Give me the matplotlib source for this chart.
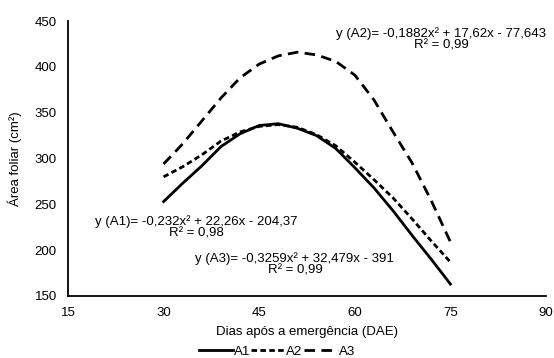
import matplotlib.pyplot as plt

plt.rcParams['font.family'] = ['Liberation Sans', 'DejaVu Sans']
plt.rcParams['font.size'] = 9.5

# dias após a emergência
dae = [30, 33, 36, 39, 42, 45, 48, 51, 54, 57, 60, 63, 66, 69, 72, 75]

# área foliar (cm²)
a1 = [253, 273, 292, 313, 327, 336, 338, 333, 325, 311, 290, 268, 243, 216, 190, 163]
a2 = [280, 291, 304, 319, 329, 335, 337, 334, 326, 314, 296, 277, 257, 234, 210, 187]
a3 = [294, 316, 341, 366, 388, 403, 412, 416, 413, 406, 391, 364, 329, 295, 254, 209]

x_ticks = [15, 30, 45, 60, 75, 90]
y_ticks = [150, 200, 250, 300, 350, 400, 450]

eq_a1 = "y (A1)= -0,232x² + 22,26x - 204,37\nR² = 0,98"
eq_a2 = "y (A2)= -0,1882x² + 17,62x - 77,643\nR² = 0,99"
eq_a3 = "y (A3)= -0,3259x² + 32,479x - 391\nR² = 0,99"

fig = plt.figure(figsize=(5.54, 3.58), dpi=100)
ax = fig.add_axes([0.1227, 0.1732, 0.8629, 0.7681])

ax.plot(dae, a1, color='black', lw=2.0, label='A1')
ax.plot(dae, a2, color='black', lw=2.0, dashes=(2.0, 1.2), label='A2')
ax.plot(dae, a3, color='black', lw=2.0, dashes=(3.8, 2.3), label='A3')

ax.set_xlim(15, 90)
ax.set_ylim(150, 450)
ax.set_xticks(x_ticks)
ax.set_yticks(y_ticks)
ax.tick_params(length=0, pad=8)
for s in ['top', 'right']:
    ax.spines[s].set_visible(False)
for s in ['left', 'bottom']:
    ax.spines[s].set_linewidth(1.3)

ax.set_xlabel('Dias após a emergência (DAE)', labelpad=5)
ax.set_ylabel('Área foliar (cm²)', labelpad=9)

ax.text(35.2, 224.7, eq_a1, ha='center', va='center', linespacing=1.0)
ax.text(73.6, 429.8, eq_a2, ha='center', va='center', linespacing=1.0)
ax.text(50.6, 184.4, eq_a3, ha='center', va='center', linespacing=1.0)

fig.legend(loc='lower center', bbox_to_anchor=(0.5, -0.015), ncol=3, frameon=False,
           handlelength=2.6, handletextpad=0.05, columnspacing=0.1, borderaxespad=0)

fig.savefig('out.png', dpi=100)
